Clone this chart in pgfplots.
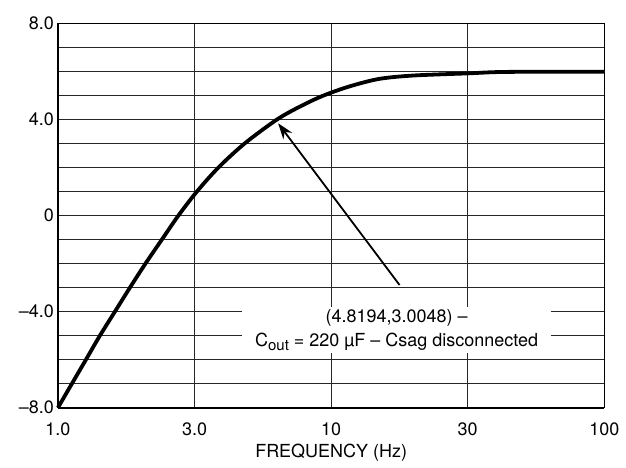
\documentclass[border=0pt]{standalone}
\usepackage{fontspec}
\setmainfont{TeX Gyre Heros}
\usepackage{pgfplots}
\pgfplotsset{compat=1.18}
\usetikzlibrary{arrows.meta}
\begin{document}
\begin{tikzpicture}
\begin{axis}[
  scale only axis,
  width=273.5pt, height=192.2pt,
  xmode=log, xmin=1, xmax=100, ymin=-8, ymax=8,
  font=\fontsize{9}{12}\selectfont,
  xtick={1,3.16228,10,31.6228,100},
  xticklabels={1.0,3.0,10,30,100},
  minor xtick={},
  ytick={-8,-4,0,4,8},
  yticklabels={\textendash8.0,\textendash4.0,0,4.0,8.0},
  minor ytick={-7,-6,-5,-3,-2,-1,1,2,3,5,6,7},
  xmajorgrids, ymajorgrids, yminorgrids,
  major tick length=0pt, minor tick length=0pt,
  grid style={black!85, line width=0.55pt},
  minor grid style={black!85, line width=0.55pt},
  axis line style={black, line width=0.7pt},
  xticklabel style={yshift=-4pt},
  yticklabel style={xshift=1.5pt},
  xlabel={FREQUENCY (Hz)},
  xlabel style={at={(axis description cs:0.5,0)}, anchor=center, yshift=-22.5pt},
  clip=false,
]
\addplot[black, line width=1.9pt, line join=round, smooth, tension=0.5] coordinates {
(1,-8) (1.125,-7) (1.266,-6) (1.424,-5) (1.616,-4) (1.834,-3) (2.09,-2) (2.40,-1)
(2.758,0) (3.223,1) (3.863,2) (4.8194,3.0048) (6.32,4) (7.7,4.55) (9.35,5.0) (11.7,5.39)
(15.0,5.70) (20,5.84) (31.7,5.93) (43.7,5.99) (100,6.0)
};
\addplot[black, line width=0.9pt, -{Stealth[length=8pt,width=5.5pt]}] coordinates {(17.8,-2.89) (6.4,3.85)};
\node[fill=white, inner sep=0pt, minimum width=155pt, minimum height=23pt, align=center]
  at (axis cs:17.36,-4.76) {(4.8194,3.0048) \textendash\\
  C\raisebox{-2pt}{\fontsize{7.5}{9}\selectfont out} = 220 µF \textendash\ Csag disconnected};
\draw[line width=1.1pt] (rel axis cs:0,0) -- (rel axis cs:0,1);
\draw[line width=1.1pt] (rel axis cs:0,0) -- (rel axis cs:1,0);
\coordinate (O) at (rel axis cs:0,0);
\coordinate (T) at (rel axis cs:1,1);
\end{axis}
\path ([xshift=-29pt,yshift=-28pt]O) rectangle ([xshift=10.5pt,yshift=11.85pt]T);
\end{tikzpicture}
\end{document}
